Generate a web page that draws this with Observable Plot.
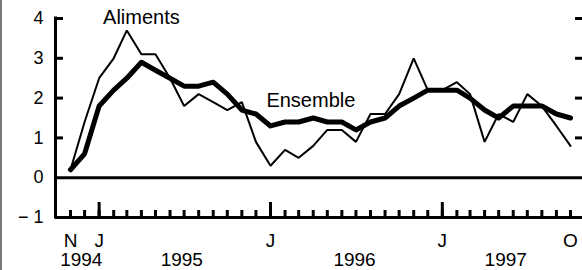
<!DOCTYPE html>
<html>
<head>
<meta charset="utf-8">
<script src="https://cdn.jsdelivr.net/npm/d3@7"></script>
<script src="https://cdn.jsdelivr.net/npm/@observablehq/plot@0.6"></script>
<style>
  body { margin: 0; background: #fff; }
  #wrap { position: relative; width: 582px; height: 270px; }
  #edge { position: absolute; left: 0; top: 0; width: 2px; height: 270px; background: #7a7a7a; }
</style>
</head>
<body>
<div id="wrap"><div id="edge"></div></div>
<script>
// Months (Nov 1994 – Oct 1997)
const months = [
  "1994-11","1994-12",
  "1995-01","1995-02","1995-03","1995-04","1995-05","1995-06","1995-07","1995-08","1995-09","1995-10","1995-11","1995-12",
  "1996-01","1996-02","1996-03","1996-04","1996-05","1996-06","1996-07","1996-08","1996-09","1996-10","1996-11","1996-12",
  "1997-01","1997-02","1997-03","1997-04","1997-05","1997-06","1997-07","1997-08","1997-09","1997-10"
];
// Series values (% change)
const aliments = [0.2,1.4, 2.5,3.0,3.7,3.1,3.1,2.5,1.8,2.1,1.9,1.7,1.9,0.9, 0.3,0.7,0.5,0.8,1.2,1.2,0.9,1.6,1.6,2.1,3.0,2.2, 2.2,2.4,2.1,0.9,1.6,1.4,2.1,1.8,1.3,0.8];
const ensemble = [0.2,0.6, 1.8,2.2,2.5,2.9,2.7,2.5,2.3,2.3,2.4,2.1,1.7,1.6, 1.3,1.4,1.4,1.5,1.4,1.4,1.2,1.4,1.5,1.8,2.0,2.2, 2.2,2.2,2.0,1.7,1.5,1.8,1.8,1.8,1.6,1.5];
// Axis tick values and labels
const yTicks = [-1, 0, 1, 2, 3, 4];
const yInnerTicks = [1, 2, 3, 4];
const janTicks = ["1995-01", "1996-01", "1997-01"];
const monthLabelDates = ["1994-11", "1995-01", "1996-01", "1997-01", "1997-10"];
const monthLabels = ["N", "J", "J", "J", "O"];
const yearLabelDates = ["1994-11-24", "1995-06-26", "1996-06-28", "1997-05-16"];
const yearLabels = ["1994", "1995", "1996", "1997"];
// Series labels
const seriesNames = ["Aliments", "Ensemble"];
const seriesLabelDates = ["1995-04-01", "1996-03-27"];
const seriesLabelValues = [4.02, 1.93];

const D = (s) => new Date(s.length === 7 ? s + "-01T00:00:00Z" : s + "T00:00:00Z");
const data = months.map((m, i) => ({date: D(m), aliments: aliments[i], ensemble: ensemble[i]}));
const monthLabelMap = new Map(monthLabelDates.map((d, i) => [+D(d), monthLabels[i]]));
const yearLabelMap = new Map(yearLabelDates.map((d, i) => [+D(d), yearLabels[i]]));
const seriesLabels = seriesNames.map((n, i) => ({name: n, date: D(seriesLabelDates[i]), value: seriesLabelValues[i]}));

const W = 582, H = 270, ML = 55, MR = 0, MT = 18, MB = 53;
const xOpts = {type: "utc", domain: [D(months[0]), D(months[months.length - 1])], range: [70, 570]};
const xs = Plot.scale({x: xOpts});
// frame edges expressed in the x scale (for the axis frame decorations)
const xLeft = xs.invert(ML), xLeftTick = xs.invert(ML + 8);
const xRight = xs.invert(W - MR), xRightTick = xs.invert(W - MR - 7);

const chart = Plot.plot({
  width: W, height: H,
  marginLeft: ML, marginRight: MR, marginTop: MT, marginBottom: MB,
  style: {fontFamily: "'Liberation Sans', Arial, Helvetica, sans-serif", background: "white", color: "black"},
  x: xOpts,
  y: {domain: [-1, 4]},
  marks: [
    Plot.ruleY([0, -1], {x1: xLeft, x2: xRight, stroke: "black", strokeWidth: 3}),
    Plot.ruleX([xLeft], {y1: -1, y2: 4, stroke: "black", strokeWidth: 3, strokeLinecap: "square"}),
    Plot.ruleY(yInnerTicks, {x1: xLeft, x2: xLeftTick, stroke: "black", strokeWidth: 3}),
    Plot.ruleY(yInnerTicks, {x1: xRightTick, x2: xRight, stroke: "black", strokeWidth: 3}),
    Plot.axisY(yTicks, {anchor: "left", tickSize: 0, tickPadding: 12, fontSize: 18,
      tickFormat: d => d < 0 ? "\u2212 " + Math.abs(d) : String(d), label: null}),
    Plot.axisX(months.map(D), {anchor: "bottom", tickSize: 7, insetBottom: 7, strokeWidth: 3, tickFormat: () => "", label: null}),
    Plot.axisX(janTicks.map(D), {anchor: "bottom", tickSize: 15, insetBottom: 15, strokeWidth: 3, tickFormat: () => "", label: null}),
    Plot.axisX(monthLabelDates.map(D), {anchor: "bottom", tickSize: 0, tickPadding: 16, fontSize: 19,
      tickFormat: d => monthLabelMap.get(+d), label: null}),
    Plot.axisX(yearLabelDates.map(D), {anchor: "bottom", tickSize: 0, tickPadding: 35, fontSize: 19,
      tickFormat: d => yearLabelMap.get(+d), label: null}),
    Plot.lineY(data, {x: "date", y: "aliments", stroke: "black", strokeWidth: 2, strokeLinejoin: "miter"}),
    Plot.lineY(data, {x: "date", y: "ensemble", stroke: "black", strokeWidth: 5, strokeLinejoin: "round", strokeLinecap: "round"}),
    Plot.text(seriesLabels, {x: "date", y: "value", text: "name", fontSize: 20, fill: "black"})
  ]
});
document.getElementById("wrap").appendChild(chart);
</script>
</body>
</html>
